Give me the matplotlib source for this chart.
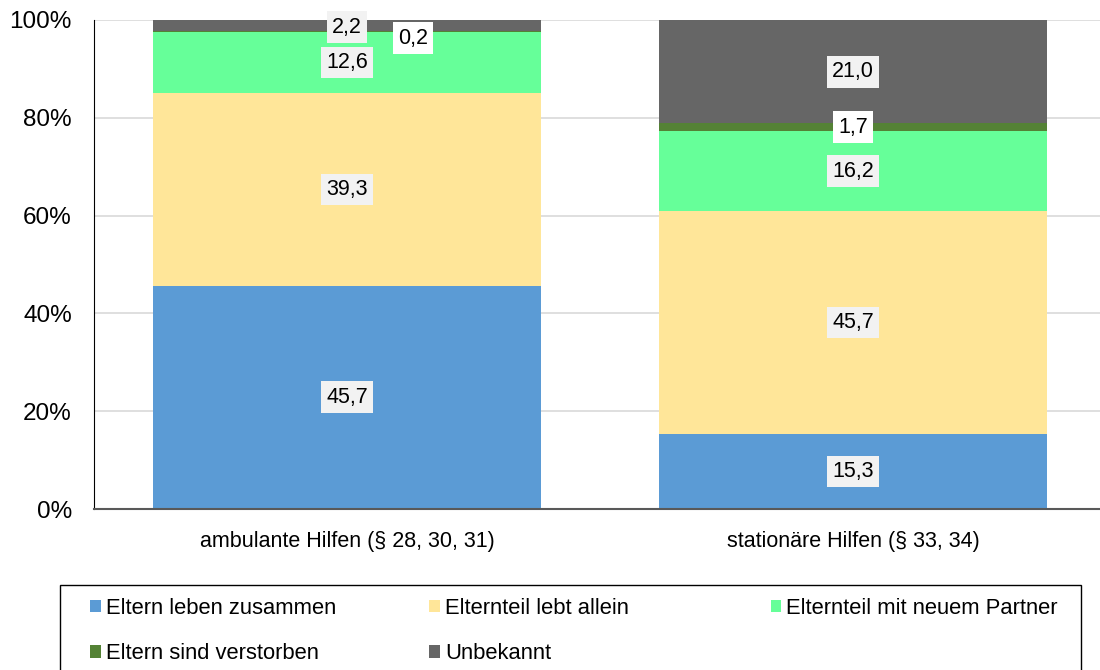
import matplotlib
matplotlib.use("Agg")
import matplotlib.pyplot as plt
from matplotlib.patches import Rectangle
import numpy as np

plt.rcParams['font.family'] = ['Liberation Sans', 'DejaVu Sans']

categories = ["ambulante Hilfen (§ 28, 30, 31)", "stationäre Hilfen (§ 33, 34)"]
series_names = ["Eltern leben zusammen", "Elternteil lebt allein",
                "Elternteil mit neuem Partner", "Eltern sind verstorben", "Unbekannt"]
values = {
    "Eltern leben zusammen": [45.7, 15.3],
    "Elternteil lebt allein": [39.3, 45.7],
    "Elternteil mit neuem Partner": [12.6, 16.2],
    "Eltern sind verstorben": [0.2, 1.7],
    "Unbekannt": [2.2, 21.0],
}
colors = ["#5B9BD5", "#FFE699", "#66FF99", "#548235", "#666666"]

W, H = 1100, 670
fig = plt.figure(figsize=(W / 100, H / 100), dpi=100)
ax = fig.add_axes([94 / W, 1 - 509 / H, 1006 / W, 489 / H])

x = np.arange(len(categories))
bar_w = 0.767
bottom = np.zeros(len(categories))
handles = {}
for name, col in zip(series_names, colors):
    v = np.array(values[name])
    handles[name] = ax.bar(x, v, bar_w, bottom=bottom, color=col, label=name, zorder=2)
    for i, (val, b) in enumerate(zip(v, bottom)):
        yc = b + val / 2
        xo, yo = 0, 0
        face = "#F2F2F2"
        if name == "Eltern sind verstorben":
            face = "white"
            if i == 0:
                xo, yo = 66, -7
        if name == "Unbekannt" and i == 0:
            yo = -2
        ax.annotate(f"{val:.1f}".replace(".", ","), (i, yc), xytext=(xo, yo),
                    textcoords="offset pixels", ha="center", va="center",
                    fontsize=15.5, color="black", zorder=5,
                    bbox=dict(boxstyle="square,pad=0.25", fc=face, ec="none"))
    bottom += v

ax.set_xlim(-0.5, 1.488)
ax.set_ylim(0, 100)
ax.set_yticks(np.arange(0, 101, 20))
ax.set_yticklabels([f"{t}%" for t in range(0, 101, 20)], fontsize=17.5)
ax.set_xticks(x)
ax.set_xticklabels(categories, fontsize=15.5)
ax.tick_params(axis="both", length=0)
ax.tick_params(axis="y", pad=16)
ax.tick_params(axis="x", pad=16)
ax.yaxis.grid(True, color="#D9D9D9", linewidth=1.2, zorder=0)
ax.set_axisbelow(True)
for s in ["top", "right"]:
    ax.spines[s].set_visible(False)
ax.spines["left"].set_color("black")
ax.spines["bottom"].set_color("#595959")
ax.spines["bottom"].set_linewidth(1.5)

# legend frame (open towards the bottom edge of the figure)
fig.add_artist(Rectangle((60 / W, -0.01), 1020.5 / W, (H - 585) / H + 0.01,
                         transform=fig.transFigure, fill=False, ec="black", lw=1))

# legend laid out in rows of three, one legend per column
columns = [(90, ["Eltern leben zusammen", "Eltern sind verstorben"]),
           (429, ["Elternteil lebt allein", "Unbekannt"]),
           (770.5, ["Elternteil mit neuem Partner"])]
for xpix, names in columns:
    fig.legend([handles[n] for n in names], names,
               loc="upper left", bbox_to_anchor=(xpix / W, 1 - 598 / H),
               fontsize=15.8, frameon=False,
               handlelength=0.5, handleheight=0.5, handletextpad=0.22,
               borderpad=0, labelspacing=1.1, borderaxespad=0)

fig.savefig("out.png", dpi=100)
